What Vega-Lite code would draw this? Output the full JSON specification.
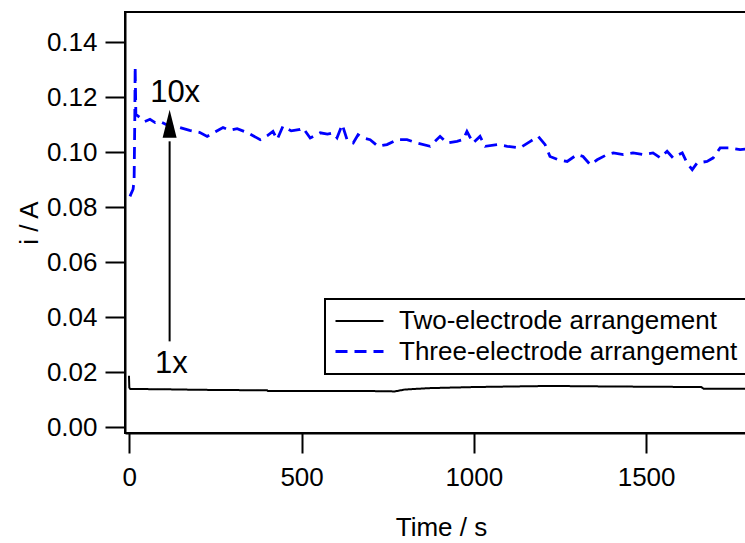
{
  "$schema": "https://vega.github.io/schema/vega-lite/v6.json",
  "autosize": "none",
  "padding": {"left": 125, "top": 12, "right": 0, "bottom": 110},
  "width": 621,
  "height": 421,
  "background": "white",
  "config": {
    "view": {"stroke": "black", "strokeWidth": 2},
    "font": "Liberation Sans",
    "axis": {
      "grid": false,
      "domainColor": "black",
      "domainWidth": 2,
      "tickColor": "black",
      "tickWidth": 2,
      "tickSize": 20,
      "labelColor": "black",
      "labelFont": "Liberation Sans",
      "labelFontSize": 26,
      "titleColor": "black",
      "titleFont": "Liberation Sans",
      "titleFontSize": 26,
      "titleFontWeight": "normal"
    },
    "legend": {
      "orient": "none",
      "legendX": 200,
      "legendY": 287,
      "fillColor": "white",
      "strokeColor": "black",
      "strokeWidth": 2,
      "padding": 9,
      "cornerRadius": 0,
      "labelFont": "Liberation Sans",
      "labelFontSize": 26,
      "labelColor": "black",
      "labelLimit": 0,
      "labelOffset": 38,
      "rowPadding": 4,
      "symbolType": "M-1,0L3,0",
      "symbolSize": 576,
      "symbolStrokeWidth": 2.5
    }
  },
  "datasets": {
    "curves": [
      {"series": "Two-electrode arrangement", "t": -1, "v": 0.0188},
      {"series": "Two-electrode arrangement", "t": 0, "v": 0.0145},
      {"series": "Two-electrode arrangement", "t": 3, "v": 0.0140},
      {"series": "Two-electrode arrangement", "t": 100, "v": 0.0139},
      {"series": "Two-electrode arrangement", "t": 200, "v": 0.0137},
      {"series": "Two-electrode arrangement", "t": 400, "v": 0.0135},
      {"series": "Two-electrode arrangement", "t": 402, "v": 0.0133},
      {"series": "Two-electrode arrangement", "t": 600, "v": 0.0133},
      {"series": "Two-electrode arrangement", "t": 740, "v": 0.0132},
      {"series": "Two-electrode arrangement", "t": 770, "v": 0.0131},
      {"series": "Two-electrode arrangement", "t": 800, "v": 0.0138},
      {"series": "Two-electrode arrangement", "t": 870, "v": 0.0143},
      {"series": "Two-electrode arrangement", "t": 1000, "v": 0.0147},
      {"series": "Two-electrode arrangement", "t": 1220, "v": 0.0151},
      {"series": "Two-electrode arrangement", "t": 1400, "v": 0.0149},
      {"series": "Two-electrode arrangement", "t": 1660, "v": 0.0147},
      {"series": "Two-electrode arrangement", "t": 1667, "v": 0.0141},
      {"series": "Two-electrode arrangement", "t": 1790, "v": 0.0141},

      {"series": "Three-electrode arrangement", "t": 2, "v": 0.0840},
      {"series": "Three-electrode arrangement", "t": 6, "v": 0.0852},
      {"series": "Three-electrode arrangement", "t": 11, "v": 0.0866},
      {"series": "Three-electrode arrangement", "t": 14, "v": 0.0900},
      {"series": "Three-electrode arrangement", "t": 16, "v": 0.1131},
      {"series": "Three-electrode arrangement", "t": 17, "v": 0.1312},
      {"series": "Three-electrode arrangement", "t": 19, "v": 0.1138},
      {"series": "Three-electrode arrangement", "t": 31, "v": 0.1126},
      {"series": "Three-electrode arrangement", "t": 45, "v": 0.1112},
      {"series": "Three-electrode arrangement", "t": 60, "v": 0.1120},
      {"series": "Three-electrode arrangement", "t": 75, "v": 0.1108},
      {"series": "Three-electrode arrangement", "t": 89, "v": 0.1112},
      {"series": "Three-electrode arrangement", "t": 118, "v": 0.1094},
      {"series": "Three-electrode arrangement", "t": 147, "v": 0.1090},
      {"series": "Three-electrode arrangement", "t": 175, "v": 0.1080},
      {"series": "Three-electrode arrangement", "t": 205, "v": 0.1072},
      {"series": "Three-electrode arrangement", "t": 226, "v": 0.1058},
      {"series": "Three-electrode arrangement", "t": 250, "v": 0.1075},
      {"series": "Three-electrode arrangement", "t": 272, "v": 0.1090},
      {"series": "Three-electrode arrangement", "t": 292, "v": 0.1080},
      {"series": "Three-electrode arrangement", "t": 313, "v": 0.1086},
      {"series": "Three-electrode arrangement", "t": 342, "v": 0.1072},
      {"series": "Three-electrode arrangement", "t": 380, "v": 0.1046},
      {"series": "Three-electrode arrangement", "t": 400, "v": 0.1060},
      {"series": "Three-electrode arrangement", "t": 417, "v": 0.1076},
      {"series": "Three-electrode arrangement", "t": 429, "v": 0.1046},
      {"series": "Three-electrode arrangement", "t": 446, "v": 0.1095},
      {"series": "Three-electrode arrangement", "t": 470, "v": 0.1078},
      {"series": "Three-electrode arrangement", "t": 496, "v": 0.1083},
      {"series": "Three-electrode arrangement", "t": 504, "v": 0.1089},
      {"series": "Three-electrode arrangement", "t": 525, "v": 0.1052},
      {"series": "Three-electrode arrangement", "t": 554, "v": 0.1071},
      {"series": "Three-electrode arrangement", "t": 575, "v": 0.1066},
      {"series": "Three-electrode arrangement", "t": 592, "v": 0.1071},
      {"series": "Three-electrode arrangement", "t": 603, "v": 0.1053},
      {"series": "Three-electrode arrangement", "t": 618, "v": 0.1101},
      {"series": "Three-electrode arrangement", "t": 632, "v": 0.1046},
      {"series": "Three-electrode arrangement", "t": 650, "v": 0.1034},
      {"series": "Three-electrode arrangement", "t": 664, "v": 0.1064},
      {"series": "Three-electrode arrangement", "t": 680, "v": 0.1052},
      {"series": "Three-electrode arrangement", "t": 699, "v": 0.1046},
      {"series": "Three-electrode arrangement", "t": 722, "v": 0.1022},
      {"series": "Three-electrode arrangement", "t": 748, "v": 0.1028},
      {"series": "Three-electrode arrangement", "t": 777, "v": 0.1046},
      {"series": "Three-electrode arrangement", "t": 806, "v": 0.1046},
      {"series": "Three-electrode arrangement", "t": 835, "v": 0.1034},
      {"series": "Three-electrode arrangement", "t": 873, "v": 0.1022},
      {"series": "Three-electrode arrangement", "t": 902, "v": 0.1058},
      {"series": "Three-electrode arrangement", "t": 922, "v": 0.1034},
      {"series": "Three-electrode arrangement", "t": 951, "v": 0.1040},
      {"series": "Three-electrode arrangement", "t": 969, "v": 0.1046},
      {"series": "Three-electrode arrangement", "t": 980, "v": 0.1076},
      {"series": "Three-electrode arrangement", "t": 998, "v": 0.1034},
      {"series": "Three-electrode arrangement", "t": 1018, "v": 0.1058},
      {"series": "Three-electrode arrangement", "t": 1033, "v": 0.1022},
      {"series": "Three-electrode arrangement", "t": 1068, "v": 0.1028},
      {"series": "Three-electrode arrangement", "t": 1097, "v": 0.1022},
      {"series": "Three-electrode arrangement", "t": 1134, "v": 0.1016},
      {"series": "Three-electrode arrangement", "t": 1164, "v": 0.1040},
      {"series": "Three-electrode arrangement", "t": 1187, "v": 0.1058},
      {"series": "Three-electrode arrangement", "t": 1207, "v": 0.1028},
      {"series": "Three-electrode arrangement", "t": 1221, "v": 0.0985},
      {"series": "Three-electrode arrangement", "t": 1245, "v": 0.0973},
      {"series": "Three-electrode arrangement", "t": 1271, "v": 0.0967},
      {"series": "Three-electrode arrangement", "t": 1300, "v": 0.0992},
      {"series": "Three-electrode arrangement", "t": 1317, "v": 0.0985},
      {"series": "Three-electrode arrangement", "t": 1338, "v": 0.0955},
      {"series": "Three-electrode arrangement", "t": 1358, "v": 0.0973},
      {"series": "Three-electrode arrangement", "t": 1387, "v": 0.0992},
      {"series": "Three-electrode arrangement", "t": 1405, "v": 0.0998},
      {"series": "Three-electrode arrangement", "t": 1434, "v": 0.0992},
      {"series": "Three-electrode arrangement", "t": 1462, "v": 0.0998},
      {"series": "Three-electrode arrangement", "t": 1491, "v": 0.0992},
      {"series": "Three-electrode arrangement", "t": 1520, "v": 0.0998},
      {"series": "Three-electrode arrangement", "t": 1541, "v": 0.0980},
      {"series": "Three-electrode arrangement", "t": 1561, "v": 0.1004},
      {"series": "Three-electrode arrangement", "t": 1578, "v": 0.0980},
      {"series": "Three-electrode arrangement", "t": 1605, "v": 0.0998},
      {"series": "Three-electrode arrangement", "t": 1619, "v": 0.0961},
      {"series": "Three-electrode arrangement", "t": 1634, "v": 0.0937},
      {"series": "Three-electrode arrangement", "t": 1648, "v": 0.0961},
      {"series": "Three-electrode arrangement", "t": 1677, "v": 0.0967},
      {"series": "Three-electrode arrangement", "t": 1695, "v": 0.0980},
      {"series": "Three-electrode arrangement", "t": 1715, "v": 0.1016},
      {"series": "Three-electrode arrangement", "t": 1744, "v": 0.1016},
      {"series": "Three-electrode arrangement", "t": 1773, "v": 0.1010},
      {"series": "Three-electrode arrangement", "t": 1790, "v": 0.1012}
    ],
    "arrow": [{"t": 117, "v0": 0.0313, "v1": 0.104, "vh": 0.1104}],
    "labels": [
      {"t": 133, "v": 0.1183, "label": "10x"},
      {"t": 122, "v": 0.0198, "label": "1x"}
    ]
  },
  "layer": [
    {
      "data": {"name": "curves"},
      "mark": {"type": "line", "clip": true},
      "encoding": {
        "x": {
          "field": "t", "type": "quantitative",
          "scale": {"domain": [-12.5, 1790], "nice": false, "zero": false},
          "axis": {"values": [0, 500, 1000, 1500], "format": "d", "title": "Time / s", "labelPadding": 11, "titlePadding": 24, "titleX": 316}
        },
        "y": {
          "field": "v", "type": "quantitative",
          "scale": {"domain": [-0.002, 0.151], "nice": false, "zero": false},
          "axis": {"values": [0, 0.02, 0.04, 0.06, 0.08, 0.1, 0.12, 0.14], "format": ".2f", "title": "i / A", "labelPadding": 8, "titlePadding": 4}
        },
        "color": {
          "field": "series", "type": "nominal",
          "scale": {"domain": ["Two-electrode arrangement", "Three-electrode arrangement"], "range": ["#000000", "#0000ff"]},
          "legend": {"title": null}
        },
        "strokeDash": {
          "field": "series", "type": "nominal",
          "scale": {"domain": ["Two-electrode arrangement", "Three-electrode arrangement"], "range": [[1, 0], [12, 7]]},
          "legend": {"title": null}
        },
        "strokeWidth": {
          "field": "series", "type": "nominal",
          "scale": {"domain": ["Two-electrode arrangement", "Three-electrode arrangement"], "range": [2, 2.8]},
          "legend": null
        }
      }
    },
    {
      "data": {"name": "arrow"},
      "mark": {"type": "rule", "color": "black", "strokeWidth": 2},
      "encoding": {
        "x": {"field": "t", "type": "quantitative"},
        "y": {"field": "v0", "type": "quantitative"},
        "y2": {"field": "v1"}
      }
    },
    {
      "data": {"name": "arrow"},
      "mark": {"type": "point", "shape": "M-0.5,1L0,-1L0.5,1Z", "filled": true, "color": "black", "size": 784, "opacity": 1},
      "encoding": {
        "x": {"field": "t", "type": "quantitative"},
        "y": {"field": "vh", "type": "quantitative"}
      }
    },
    {
      "data": {"name": "labels"},
      "mark": {"type": "text", "font": "Liberation Sans", "fontSize": 31, "color": "black", "align": "center", "baseline": "alphabetic"},
      "encoding": {
        "x": {"field": "t", "type": "quantitative"},
        "y": {"field": "v", "type": "quantitative"},
        "text": {"field": "label"}
      }
    }
  ]
}
